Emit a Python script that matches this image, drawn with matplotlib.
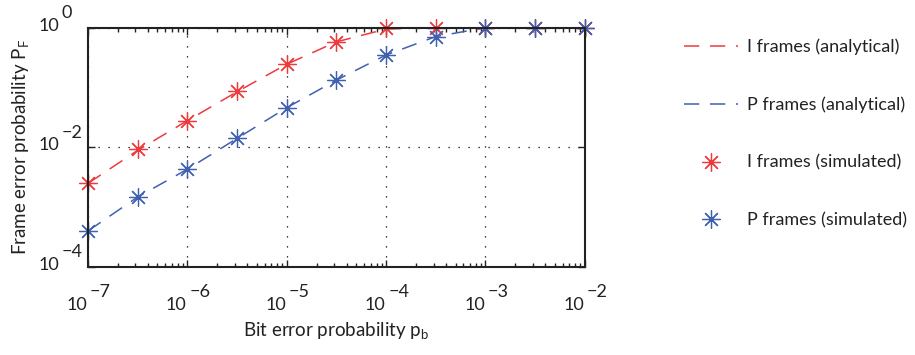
import numpy as np
import matplotlib.pyplot as plt
from matplotlib.ticker import LogLocator, NullFormatter, NullLocator

plt.rcParams['font.family'] = ['Lato', 'DejaVu Sans']

# bit error probability (half-decade steps)
pb = [1e-7, 10**-6.5, 1e-6, 10**-5.5, 1e-5, 10**-4.5, 1e-4, 10**-3.5, 1e-3, 10**-2.5, 1e-2]

# frame error probability
i_analytical = [2.5e-3, 8.9e-3, 0.028, 0.085, 0.245, 0.58, 0.95, 1.0, 1.0, 1.0, 1.0]
p_analytical = [4.0e-4, 1.48e-3, 4.3e-3, 0.0141, 0.046, 0.133, 0.35, 0.71, 1.0, 1.0, 1.0]
i_simulated = [2.5e-3, 9.3e-3, 0.028, 0.086, 0.245, 0.58, 0.97, 1.0, 1.0, 1.0, 1.0]
p_simulated = [4.0e-4, 1.48e-3, 4.3e-3, 0.0141, 0.046, 0.133, 0.35, 0.71, 1.0, 1.0, 1.0]

x_exps = [-7, -6, -5, -4, -3, -2]
y_exps = [-4, -2, 0]

red = '#ee3a3c'
blue = '#4060b0'
ink = '#222222'
star = (8, 2, 0)

fig = plt.figure(figsize=(9.15, 3.55), dpi=100)
ax = fig.add_axes([0.0962, 0.248, 0.543, 0.674])

l1, = ax.plot(pb, i_analytical, color=red, lw=1.1, dashes=(10, 7), label='I frames (analytical)')
l2, = ax.plot(pb, p_analytical, color=blue, lw=1.1, dashes=(10, 7), label='P frames (analytical)')
m1, = ax.plot(pb, i_simulated, ls='none', marker=star, ms=13, mew=0.9, color=red,
              label='I frames (simulated)', clip_on=False)
m2, = ax.plot(pb, p_simulated, ls='none', marker=star, ms=13, mew=0.9, color=blue,
              label='P frames (simulated)', clip_on=False)

ax.set_xscale('log')
ax.set_yscale('log')
ax.set_xlim(1e-7, 1e-2)
ax.set_ylim(1e-4, 1e0)

ax.xaxis.set_major_locator(LogLocator(base=10, numticks=10))
ax.xaxis.set_minor_locator(LogLocator(base=10, subs=np.arange(2, 10), numticks=20))
ax.xaxis.set_major_formatter(NullFormatter())
ax.xaxis.set_minor_formatter(NullFormatter())
ax.set_yticks([10.0**e for e in y_exps])
ax.yaxis.set_minor_locator(NullLocator())
ax.yaxis.set_major_formatter(NullFormatter())

ax.tick_params(which='both', direction='in', top=True, right=True, width=1.0, color=ink)
ax.tick_params(which='major', length=5)
ax.tick_params(which='minor', length=3)
for s in ax.spines.values():
    s.set_linewidth(1.5)
    s.set_color(ink)

ax.grid(True, which='major', color='black', ls=(0, (1, 7)), lw=0.9)

# tick labels in "10 with raised exponent" style
for e in x_exps:
    ax.annotate('10', xy=(10.0**e, 0), xycoords=('data', 'axes fraction'),
                xytext=(-0.5, -27.5), textcoords='offset points', ha='right', va='center',
                fontsize=13, color=ink)
    ax.annotate('\u2212%d' % -e, xy=(10.0**e, 0), xycoords=('data', 'axes fraction'),
                xytext=(1.5, -18), textcoords='offset points', ha='left', va='center',
                fontsize=13, color=ink)
for e in y_exps:
    ax.annotate('10', xy=(0, 10.0**e), xycoords=('axes fraction', 'data'),
                xytext=(-20.5, 1.5), textcoords='offset points', ha='right', va='center',
                fontsize=13, color=ink)
    ax.annotate('\u2212%d' % -e if e else '0', xy=(0, 10.0**e), xycoords=('axes fraction', 'data'),
                xytext=(-19, 10.5), textcoords='offset points',
                ha='left', va='center', fontsize=13, color=ink)

ax.set_xlabel('Bit error probability p$_\\mathregular{b}$', fontsize=13.5, labelpad=35, color=ink)
ax.set_ylabel('Frame error probability P$_\\mathregular{F}$', fontsize=13.5, labelpad=37, color=ink)

fig.legend(handles=[l1, l2, m1, m2], loc='upper left', bbox_to_anchor=(0.730, 0.937),
           frameon=False, fontsize=13, handlelength=3.0, labelspacing=2.3, handletextpad=0.5,
           labelcolor=ink)

fig.savefig('out.png', dpi=100)
